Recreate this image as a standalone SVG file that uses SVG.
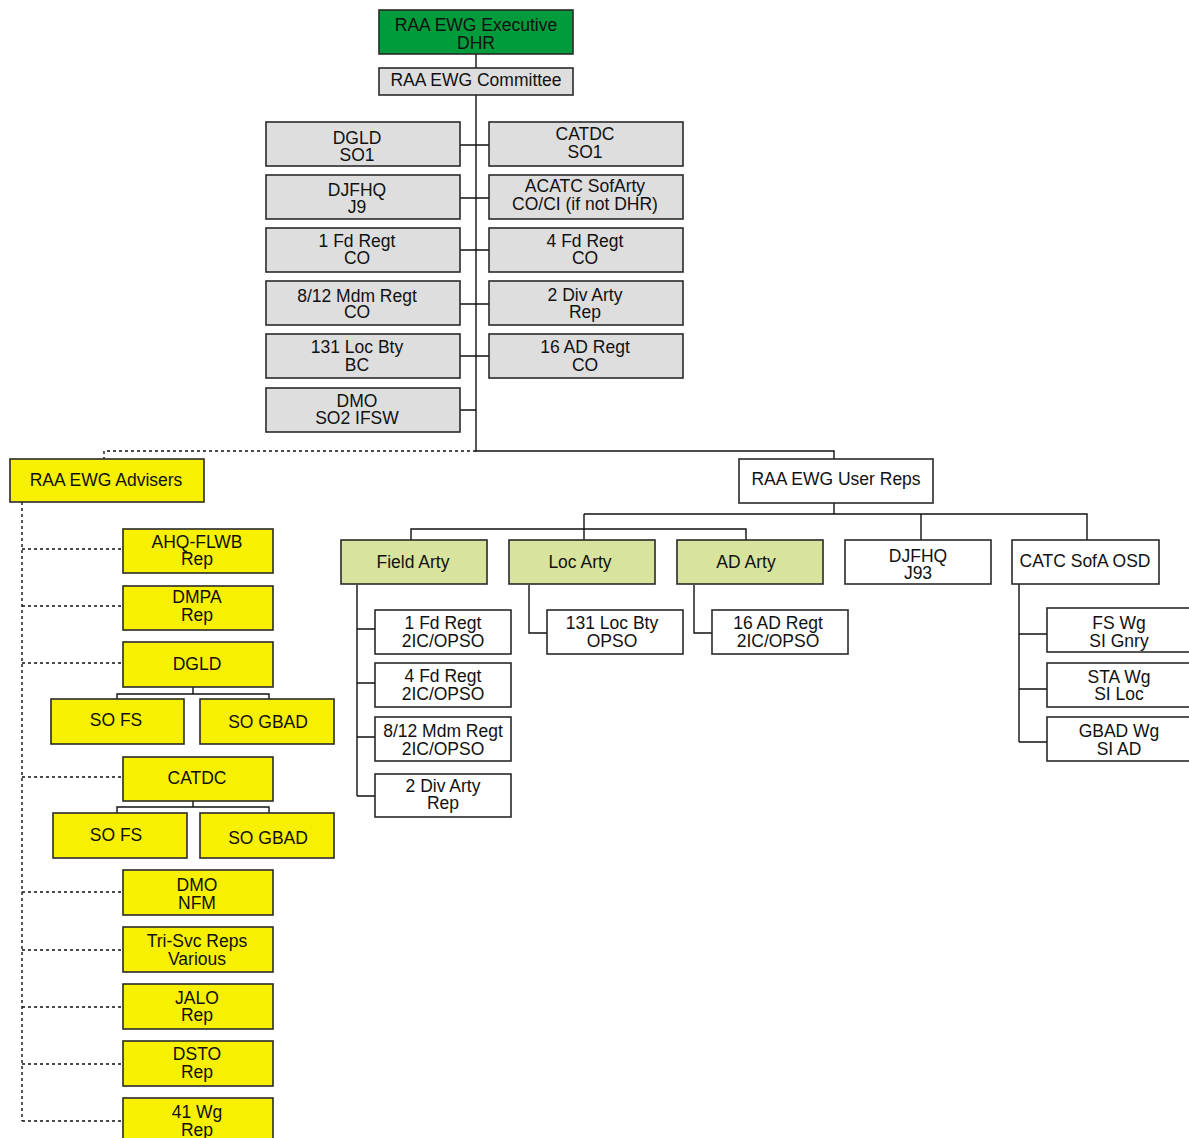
<svg xmlns="http://www.w3.org/2000/svg" width="1189" height="1138" viewBox="0 0 1189 1138">
<style>
text{font-family:"Liberation Sans",Arial,sans-serif;font-size:17.5px;fill:#111;text-anchor:middle}
rect{stroke:#2a2a2a;stroke-width:1.6}
.exec{fill:#009b3a}
.gray{fill:#dedede}
.yel{fill:#f7f000}
.lg{fill:#d8e49e}
.wh{fill:#ffffff}
.ln{fill:none;stroke:#111;stroke-width:1.4}
.dot{fill:none;stroke:#111;stroke-width:1.4;stroke-dasharray:3 3}
</style>
<rect width="1189" height="1138" fill="#fff" style="stroke:none"/>
<g id="connectors">
<path class="ln" d="M476,54V68M476,95V451H834V459"/>
<path class="ln" d="M460,145H489M460,198H489M460,250H489M460,304H489M460,356H489M460,410H476"/>
<path class="dot" d="M476,451H104V459"/>
<path class="dot" d="M22,502V1121M22,549H123M22,606H123M22,663H123M22,777H123M22,892H123M22,950H123M22,1007H123M22,1064H123M22,1121H123"/>
<path class="ln" d="M193,687V694M117,699V694H269V699"/>
<path class="ln" d="M193,801V807M117,813V807H269V813"/>
<path class="ln" d="M834,503V514M584,514H1087V540M921,514V540M584,514V540M411,540V529H746V540"/>
<path class="ln" d="M357,585V796M357,629H375M357,683H375M357,737H375M357,796H375"/>
<path class="ln" d="M529,585V633H547M694,585V633H712"/>
<path class="ln" d="M1019,584V742M1019,634H1047M1019,689H1047M1019,742H1047"/>
</g>
<g id="n-exec"><rect class="exec" x="379" y="10" width="194" height="44"/><text x="476" y="31">RAA EWG Executive</text><text x="476" y="49">DHR</text></g>
<g id="n-committee"><rect class="gray" x="379" y="68" width="194" height="27"/><text x="476" y="86">RAA EWG Committee</text></g>
<g id="n-dgld-so1"><rect class="gray" x="266" y="122" width="194" height="44"/><text x="357" y="144">DGLD</text><text x="357" y="161">SO1</text></g>
<g id="n-catdc-so1"><rect class="gray" x="489" y="122" width="194" height="44"/><text x="585" y="140">CATDC</text><text x="585" y="158">SO1</text></g>
<g id="n-djfhq-j9"><rect class="gray" x="266" y="175" width="194" height="44"/><text x="357" y="196">DJFHQ</text><text x="357" y="213">J9</text></g>
<g id="n-acatc"><rect class="gray" x="489" y="175" width="194" height="44"/><text x="585" y="192">ACATC SofArty</text><text x="585" y="210">CO/CI (if not DHR)</text></g>
<g id="n-1fd-co"><rect class="gray" x="266" y="228" width="194" height="44"/><text x="357" y="247">1 Fd Regt</text><text x="357" y="264">CO</text></g>
<g id="n-4fd-co"><rect class="gray" x="489" y="228" width="194" height="44"/><text x="585" y="247">4 Fd Regt</text><text x="585" y="264">CO</text></g>
<g id="n-812-co"><rect class="gray" x="266" y="281" width="194" height="44"/><text x="357" y="302">8/12 Mdm Regt</text><text x="357" y="318">CO</text></g>
<g id="n-2div-rep"><rect class="gray" x="489" y="281" width="194" height="44"/><text x="585" y="301">2 Div Arty</text><text x="585" y="318">Rep</text></g>
<g id="n-131-bc"><rect class="gray" x="266" y="334" width="194" height="44"/><text x="357" y="353">131 Loc Bty</text><text x="357" y="371">BC</text></g>
<g id="n-16ad-co"><rect class="gray" x="489" y="334" width="194" height="44"/><text x="585" y="353">16 AD Regt</text><text x="585" y="371">CO</text></g>
<g id="n-dmo-so2"><rect class="gray" x="266" y="388" width="194" height="44"/><text x="357" y="407">DMO</text><text x="357" y="424">SO2 IFSW</text></g>
<g id="n-advisers"><rect class="yel" x="10" y="459" width="194" height="43"/><text x="106" y="486">RAA EWG Advisers</text></g>
<g id="n-ahq"><rect class="yel" x="123" y="529" width="150" height="44"/><text x="197" y="548">AHQ-FLWB</text><text x="197" y="565">Rep</text></g>
<g id="n-dmpa"><rect class="yel" x="123" y="586" width="150" height="44"/><text x="197" y="603">DMPA</text><text x="197" y="621">Rep</text></g>
<g id="n-dgld-adv"><rect class="yel" x="123" y="642" width="150" height="45"/><text x="197" y="670">DGLD</text></g>
<g id="n-sofs-1"><rect class="yel" x="51" y="699" width="133" height="45"/><text x="116" y="726">SO FS</text></g>
<g id="n-sogbad-1"><rect class="yel" x="200" y="699" width="134" height="45"/><text x="268" y="728">SO GBAD</text></g>
<g id="n-catdc-adv"><rect class="yel" x="123" y="757" width="150" height="44"/><text x="197" y="784">CATDC</text></g>
<g id="n-sofs-2"><rect class="yel" x="53" y="813" width="134" height="45"/><text x="116" y="841">SO FS</text></g>
<g id="n-sogbad-2"><rect class="yel" x="200" y="813" width="134" height="45"/><text x="268" y="844">SO GBAD</text></g>
<g id="n-dmo-nfm"><rect class="yel" x="123" y="870" width="150" height="45"/><text x="197" y="891">DMO</text><text x="197" y="909">NFM</text></g>
<g id="n-trisvc"><rect class="yel" x="123" y="927" width="150" height="45"/><text x="197" y="947">Tri-Svc Reps</text><text x="197" y="965">Various</text></g>
<g id="n-jalo"><rect class="yel" x="123" y="984" width="150" height="45"/><text x="197" y="1004">JALO</text><text x="197" y="1021">Rep</text></g>
<g id="n-dsto"><rect class="yel" x="123" y="1041" width="150" height="45"/><text x="197" y="1060">DSTO</text><text x="197" y="1078">Rep</text></g>
<g id="n-41wg"><rect class="yel" x="123" y="1098" width="150" height="45"/><text x="197" y="1118">41 Wg</text><text x="197" y="1136">Rep</text></g>
<g id="n-userreps"><rect class="wh" x="739" y="459" width="194" height="44"/><text x="836" y="485">RAA EWG User Reps</text></g>
<g id="n-fieldarty"><rect class="lg" x="341" y="540" width="146" height="44"/><text x="413" y="568">Field Arty</text></g>
<g id="n-locarty"><rect class="lg" x="509" y="540" width="146" height="44"/><text x="580" y="568">Loc Arty</text></g>
<g id="n-adarty"><rect class="lg" x="677" y="540" width="146" height="44"/><text x="746" y="568">AD Arty</text></g>
<g id="n-djfhq-j93"><rect class="wh" x="845" y="540" width="146" height="44"/><text x="918" y="562">DJFHQ</text><text x="918" y="579">J93</text></g>
<g id="n-catc"><rect class="wh" x="1012" y="540" width="147" height="44"/><text x="1085" y="567">CATC SofA OSD</text></g>
<g id="n-1fd-2ic"><rect class="wh" x="375" y="610" width="136" height="44"/><text x="443" y="629">1 Fd Regt</text><text x="443" y="647">2IC/OPSO</text></g>
<g id="n-4fd-2ic"><rect class="wh" x="375" y="663" width="136" height="44"/><text x="443" y="682">4 Fd Regt</text><text x="443" y="700">2IC/OPSO</text></g>
<g id="n-812-2ic"><rect class="wh" x="375" y="717" width="136" height="44"/><text x="443" y="737">8/12 Mdm Regt</text><text x="443" y="755">2IC/OPSO</text></g>
<g id="n-2div-rep2"><rect class="wh" x="375" y="774" width="136" height="43"/><text x="443" y="792">2 Div Arty</text><text x="443" y="809">Rep</text></g>
<g id="n-131-opso"><rect class="wh" x="547" y="610" width="136" height="44"/><text x="612" y="629">131 Loc Bty</text><text x="612" y="647">OPSO</text></g>
<g id="n-16ad-2ic"><rect class="wh" x="712" y="610" width="136" height="44"/><text x="778" y="629">16 AD Regt</text><text x="778" y="647">2IC/OPSO</text></g>
<g id="n-fswg"><rect class="wh" x="1047" y="608" width="146" height="44"/><text x="1119" y="629">FS Wg</text><text x="1119" y="647">SI Gnry</text></g>
<g id="n-stawg"><rect class="wh" x="1047" y="663" width="146" height="44"/><text x="1119" y="683">STA Wg</text><text x="1119" y="700">SI Loc</text></g>
<g id="n-gbadwg"><rect class="wh" x="1047" y="717" width="146" height="44"/><text x="1119" y="737">GBAD Wg</text><text x="1119" y="755">SI AD</text></g>
</svg>
